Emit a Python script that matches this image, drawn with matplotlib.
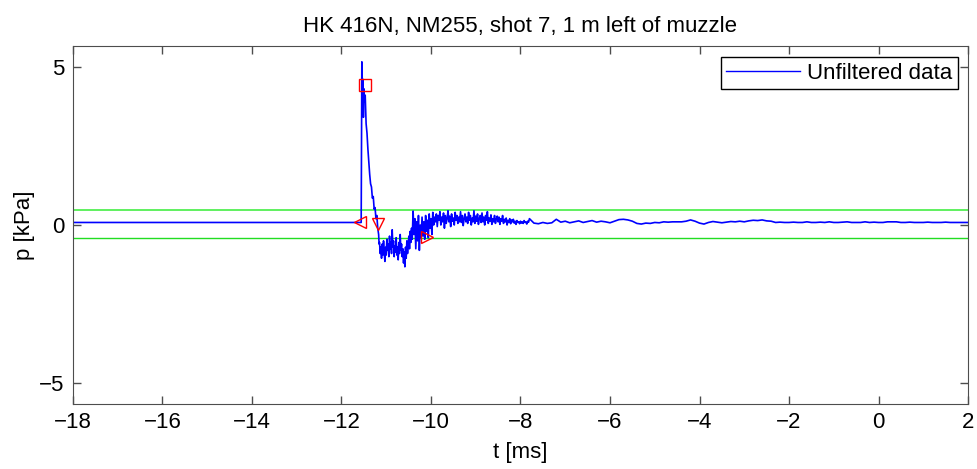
import numpy as np
import matplotlib.pyplot as plt

plt.rcParams["font.family"] = ["Liberation Sans", "DejaVu Sans"]

# baseline before the shot
pre_t = [-18.0, -11.56]
pre_p = [0.08, 0.08]

# rise and decay of the main peak
peak_t = [-11.545, -11.53, -11.52, -11.51, -11.50, -11.49, -11.47, -11.45,
          -11.43, -11.41, -11.39, -11.37, -11.35, -11.33, -11.31, -11.29,
          -11.27, -11.25, -11.23, -11.21, -11.19, -11.17, -11.16]
peak_p = [5.15, 4.2, 4.6, 3.4, 4.3, 3.9, 4.1, 3.2,
          2.9, 2.4, 2.0, 1.6, 1.3, 1.2, 0.85, 0.9,
          0.5, 0.55, 0.2, 0.3, -0.1, -0.3, -0.6]

# negative phase, -11.15 .. -10.42 ms
neg_p = [-0.55, -0.9, -0.7, -1.05, -0.6, -0.95, -0.5, -0.85, -1.15, -0.7,
         -0.95, -0.45, -0.8, -0.6, -1.0, -0.35, -0.75, -0.55, -0.9, -0.15,
         -0.7, -0.5, -1.0, -0.65, -0.85, -0.4, -0.95, -0.7, -1.1, -0.55,
         -0.9, -0.3, -0.8, -0.6, -1.0, -0.75, -1.2, -0.85, -1.32, -0.7,
         -1.05, -0.5, -0.9, -0.6, -0.35, -0.75, -0.2, -0.55, -0.1, -0.45]

# reflections, -10.40 .. -7.80 ms
refl_p = [0.44, -0.3, 0.2, -0.75, 0.1, -0.5, 0.3, -0.8, 0.0, -0.4,
          0.25, -0.35, 0.1, -0.45, 0.3, -0.2, 0.15, -0.4, 0.35, -0.1,
          0.2, -0.3, 0.4, 0.0, 0.25,
          0.1, 0.35, -0.05, 0.3, 0.15, 0.42, 0.0, 0.25, 0.1, 0.38,
          -0.1, 0.3, 0.05, 0.2, 0.45, 0.1, 0.28, -0.05, 0.35, 0.12,
          0.22, 0.0, 0.4, 0.15, 0.3, 0.05, 0.25, 0.1, 0.42, 0.08,
          0.3, -0.02, 0.2, 0.35, 0.1,
          0.25, 0.05, 0.4, 0.15, 0.3, 0.0, 0.22, 0.1, 0.45, 0.05,
          0.28, 0.12, 0.35, 0.02, 0.2, 0.3, 0.08, 0.38, 0.1, 0.25,
          0.0, 0.3, 0.15, 0.42, 0.05, 0.22, 0.12, 0.32, 0.02, 0.2,
          0.1, 0.3, 0.05, 0.18, 0.28,
          0.1, 0.25, 0.02, 0.2, 0.12, 0.3, 0.05, 0.18, 0.1, 0.22,
          0.0, 0.15, 0.08, 0.2, 0.04, 0.16, 0.1, 0.18, 0.06, 0.12,
          0.02, 0.14, 0.08, 0.1, 0.04, 0.12, 0.06, 0.1, 0.05, 0.14,
          0.08, 0.1, 0.03, 0.12, 0.09, 0.2]

# tail, -7.7 .. 2.0 ms
tail_p = [0.06, 0.04, 0.08, 0.05, 0.07, 0.18, 0.09, 0.12, 0.07, 0.1,
          0.13, 0.08, 0.11, 0.14, 0.09, 0.12, 0.1, 0.07, 0.12, 0.17,
          0.18, 0.16, 0.12, 0.05, 0.03, 0.06, 0.05, 0.08, 0.07, 0.1,
          0.09, 0.1, 0.1, 0.1, 0.12, 0.16, 0.12, 0.06, 0.03, 0.08,
          0.11, 0.09, 0.07, 0.09, 0.11, 0.1, 0.12, 0.1, 0.13, 0.15,
          0.14, 0.16, 0.13, 0.12, 0.08, 0.09, 0.08, 0.08, 0.09, 0.08,
          0.08, 0.1, 0.08, 0.08, 0.09, 0.08, 0.1, 0.08, 0.08, 0.09,
          0.1, 0.08, 0.08, 0.08, 0.1, 0.08, 0.09, 0.08, 0.08, 0.1,
          0.1, 0.1, 0.08, 0.08, 0.09, 0.08, 0.08, 0.08, 0.09, 0.08,
          0.08, 0.08, 0.09, 0.08, 0.08, 0.08, 0.08, 0.08]

# detection markers
peak_mark = (-11.48, 4.43)
start_mark = (-11.59, 0.09)
zero_mark = (-11.18, 0.03)
end_mark = (-10.1, -0.38)

# threshold lines
thr_hi = 0.47
thr_lo = -0.42


def main():
    t = np.concatenate([pre_t, peak_t,
                        np.linspace(-11.15, -10.42, len(neg_p)),
                        np.linspace(-10.40, -7.80, len(refl_p)),
                        np.linspace(-7.70, 2.0, len(tail_p))])
    p = np.concatenate([pre_p, peak_p, neg_p, refl_p, tail_p])

    fig = plt.figure(figsize=(9.77, 4.69), dpi=100)
    ax = fig.add_axes([0.0747, 0.1386, 0.9161, 0.7633])

    ax.axhline(thr_hi, color="#44ee44", lw=1.2)
    ax.axhline(thr_lo, color="#22dd22", lw=1.0)
    ax.plot(t, p, color="blue", lw=1.2, label="Unfiltered data")

    ms = 9
    ax.plot(*peak_mark, marker="s", ms=ms, mfc="none", mec="red", mew=1)
    ax.plot(*start_mark, marker="<", ms=ms, mfc="none", mec="red", mew=1)
    ax.plot(*zero_mark, marker="v", ms=ms, mfc="none", mec="red", mew=1)
    ax.plot(*end_mark, marker=">", ms=ms, mfc="none", mec="red", mew=1)

    fs = 16
    ax.set_xlim(-18, 2)
    ax.set_ylim(-5.65, 5.65)
    ax.set_xticks(range(-18, 3, 2))
    ax.set_yticks([-5, 0, 5])
    ax.tick_params(direction="in", length=6, width=1, top=True, right=True,
                   labelsize=fs, color="0.3", pad=6)
    for s in ax.spines.values():
        s.set_color("0.3")

    ax.set_xlabel("t [ms]", fontsize=fs, labelpad=6)
    ax.set_ylabel("p [kPa]", fontsize=fs, labelpad=3)
    ax.set_title("HK 416N, NM255, shot 7, 1 m left of muzzle", fontsize=fs, pad=10)

    leg = ax.legend(loc="upper right", bbox_to_anchor=(0.989, 0.969),
                    borderaxespad=0, fontsize=fs, fancybox=False,
                    edgecolor="black", framealpha=1, handlelength=3.3,
                    handletextpad=0.35, borderpad=0.25)
    leg.get_frame().set_linewidth(1)
    leg.get_lines()[0].set_linewidth(1.0)

    fig.savefig("out.png", dpi=100)


if __name__ == "__main__":
    main()
